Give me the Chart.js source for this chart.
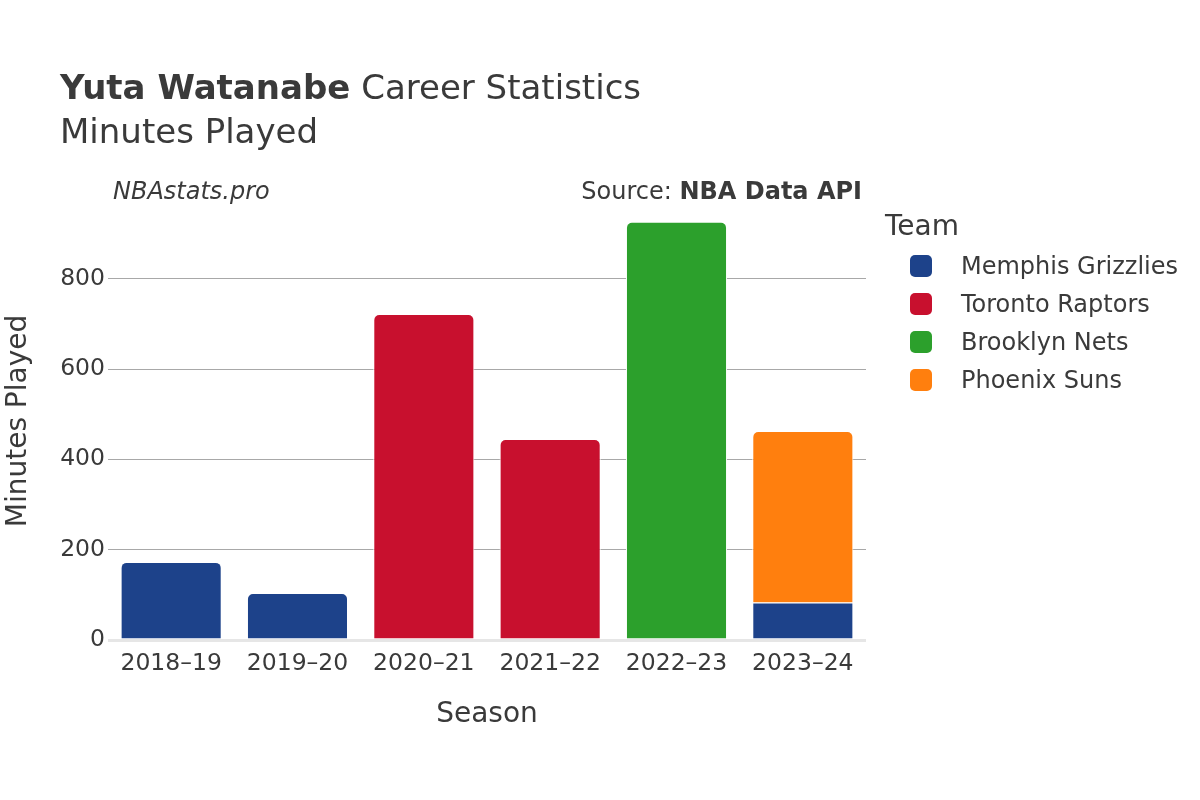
<!DOCTYPE html>
<html>
<head>
<meta charset="utf-8">
<script src="https://cdn.jsdelivr.net/npm/chart.js@4/dist/chart.umd.min.js"></script>
<style>
  html, body { margin:0; padding:0; background:#fff; }
  #wrap { position:relative; width:1200px; height:800px; font-family:"DejaVu Sans", sans-serif; color:#3a3a3a; }
  canvas { position:absolute; left:0; top:0; }
  .t { position:absolute; white-space:nowrap; line-height:1; }
  .leg-item { position:absolute; left:910px; height:24px; }
  .sw { position:absolute; left:0; top:0; width:22px; height:22px; border-radius:5px; }
  .lt { position:absolute; left:51px; top:-1px; font-size:24px; line-height:24px; color:#3a3a3a; white-space:nowrap; }
</style>
</head>
<body>
<div id="wrap">
  <canvas id="c" width="1200" height="800"></canvas>
  <div class="t" style="left:60px; top:70px; font-size:34px;"><b>Yuta Watanabe</b> Career Statistics</div>
  <div class="t" style="left:60px; top:114px; font-size:34px;">Minutes Played</div>
  <div class="t" style="left:113px; top:179px; font-size:24px; font-style:italic;">NBAstats.pro</div>
  <div class="t" style="right:338px; top:179px; font-size:24px;">Source: <b>NBA Data API</b></div>
  <div class="t" style="left:885px; top:212px; font-size:28px;">Team</div>
  <div id="legend"></div>
</div>
<script>
const seasons = ["2018–19", "2019–20", "2020–21", "2021–22", "2022–23", "2023–24"];
const teams = ["Memphis Grizzlies", "Toronto Raptors", "Brooklyn Nets", "Phoenix Suns"];
const teamColors = ["#1d428a", "#c8102e", "#2ca02c", "#ff7f0e"];
const memphis = [173, 104, null, null, null, 83];
const toronto = [null, null, 722, 445, null, null];
const brooklyn = [null, null, null, null, 926, null];
const phoenix = [null, null, null, null, null, 380];
const yTicks = [0, 200, 400, 600, 800];
const seriesValues = [memphis, toronto, brooklyn, phoenix];

// legend
const leg = document.getElementById('legend');
teams.forEach((t, i) => {
  const d = document.createElement('div');
  d.className = 'leg-item';
  d.style.top = (255 + i * 38) + 'px';
  d.innerHTML = '<div class="sw" style="background:' + teamColors[i] + '"></div><div class="lt">' + t + '</div>';
  leg.appendChild(d);
});

function isTop(ctx) {
  const di = ctx.datasetIndex, i = ctx.dataIndex;
  for (let k = di + 1; k < seriesValues.length; k++) {
    if (seriesValues[k][i] != null) return false;
  }
  return true;
}

const datasets = teams.map((t, i) => ({
  label: t,
  data: seriesValues[i],
  backgroundColor: teamColors[i],
  borderColor: '#ffffff',
  borderWidth: 1,
  borderSkipped: 'start',
  borderRadius: ctx => isTop(ctx) ? {topLeft: 6, topRight: 6, bottomLeft: 0, bottomRight: 0} : 0,
  barPercentage: 0.8,
  categoryPercentage: 1.0
}));

new Chart(document.getElementById('c'), {
  type: 'bar',
  data: { labels: seasons, datasets },
  options: {
    responsive: false,
    animation: false,
    devicePixelRatio: 1,
    layout: { padding: { left: 0, top: 202, right: 334, bottom: 0 } },
    plugins: { legend: { display: false }, tooltip: { enabled: false } },
    scales: {
      x: {
        stacked: true,
        grid: { display: false },
        border: { display: false },
        ticks: { color: '#3a3a3a', font: { family: 'DejaVu Sans', size: 23.5 }, padding: 2, maxRotation: 0 },
        title: { display: true, text: 'Season', color: '#3a3a3a', font: { family: 'DejaVu Sans', size: 28 }, padding: { top: 0, bottom: 68 } },
        afterFit: s => { s.height = 160; }
      },
      y: {
        stacked: true,
        min: 0,
        max: 970,
        afterBuildTicks: s => { s.ticks = yTicks.map(v => ({ value: v })); },
        grid: {
          color: c => c.tick && c.tick.value === 0 ? '#e6e6e6' : '#a8a8a8',
          lineWidth: c => c.tick && c.tick.value === 0 ? 3 : 1,
          drawTicks: false
        },
        border: { display: false },
        ticks: { color: '#3a3a3a', font: { family: 'DejaVu Sans', size: 23.5 }, padding: 3 },
        title: { display: true, text: 'Minutes Played', color: '#3a3a3a', font: { family: 'DejaVu Sans', size: 28 }, padding: { top: 2, bottom: 0 } },
        afterFit: s => { s.width = 108; }
      }
    }
  }
});
</script>
</body>
</html>
